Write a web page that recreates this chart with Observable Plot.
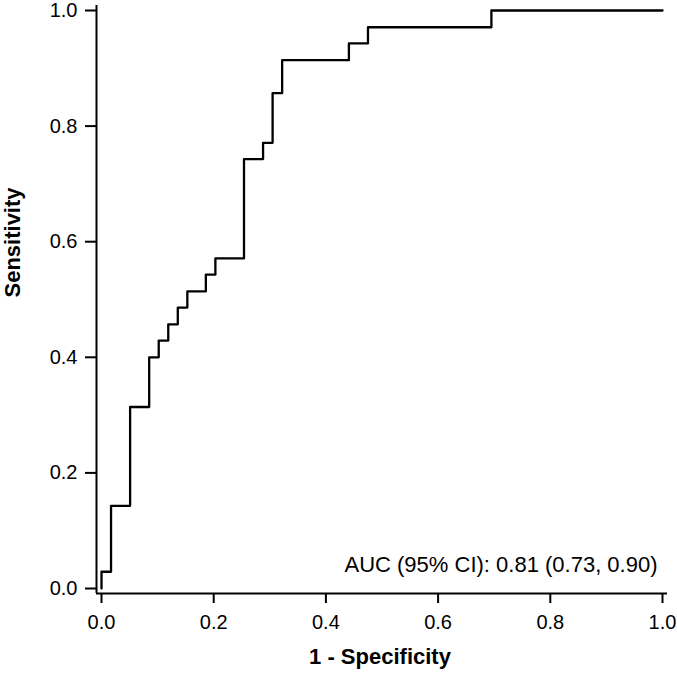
<!DOCTYPE html>
<html>
<head>
<meta charset="utf-8">
<script src="https://cdn.jsdelivr.net/npm/d3@7"></script>
<script src="https://cdn.jsdelivr.net/npm/@observablehq/plot@0.6"></script>
<style>
  html, body { margin: 0; padding: 0; background: #fff; }
  #chart svg { display: block; }
</style>
</head>
<body>
<div id="chart"></div>
<script>
// ROC curve corner points (1 - specificity, sensitivity)
const fpr = [0, 0, 0.017, 0.051, 0.085, 0.102, 0.119, 0.136, 0.153, 0.186, 0.203, 0.254, 0.288, 0.305, 0.322, 0.441, 0.475, 0.695, 1.0];
const tpr = [0, 0.029, 0.143, 0.314, 0.400, 0.429, 0.457, 0.486, 0.514, 0.543, 0.571, 0.743, 0.771, 0.857, 0.914, 0.943, 0.971, 1.0, 1.0];
const ticks = [0, 0.2, 0.4, 0.6, 0.8, 1.0];
const xLabel = "1 - Specificity";
const yLabel = "Sensitivity";
const aucText = "AUC (95% CI): 0.81 (0.73, 0.90)";

const roc = fpr.map((x, i) => ({x, y: tpr[i]}));
const font = "'Liberation Sans', Arial, Helvetica, sans-serif";
const fmt = d3.format(".1f");

const chart = Plot.plot({
  width: 677,
  height: 677,
  marginLeft: 96,
  marginRight: 10,
  marginTop: 5,
  marginBottom: 84,
  inset: 5,
  style: {fontFamily: font, background: "#fff", color: "#000"},
  x: {domain: [0, 1], ticks: ticks},
  y: {domain: [0, 1], ticks: ticks},
  marks: [
    Plot.ruleX([0], {dx: -5, stroke: "#000", strokeWidth: 2}),
    Plot.ruleY([0], {dy: 5, stroke: "#000", strokeWidth: 2}),
    Plot.axisX({ticks: ticks, tickFormat: fmt, tickSize: 10, tickPadding: 11, fontSize: 20, strokeWidth: 2, label: null}),
    Plot.axisY({ticks: ticks, tickFormat: fmt, tickSize: 11, tickPadding: 8, fontSize: 20, strokeWidth: 2, label: null}),
    Plot.line(roc, {x: "x", y: "y", curve: "step-after", stroke: "#000", strokeWidth: 2.3}),
    Plot.text([aucText], {frameAnchor: "bottom-right", dx: -10, dy: -22, textAnchor: "end", fontSize: 22, fill: "#000"}),
    Plot.text([xLabel], {frameAnchor: "bottom", dy: 70, dx: -2, fontSize: 22, fontWeight: "bold", fill: "#000"}),
    Plot.text([yLabel], {frameAnchor: "left", dx: -84, dy: -2, rotate: -90, fontSize: 22, fontWeight: "bold", fill: "#000"})
  ]
});
document.getElementById("chart").appendChild(chart);
</script>
</body>
</html>
